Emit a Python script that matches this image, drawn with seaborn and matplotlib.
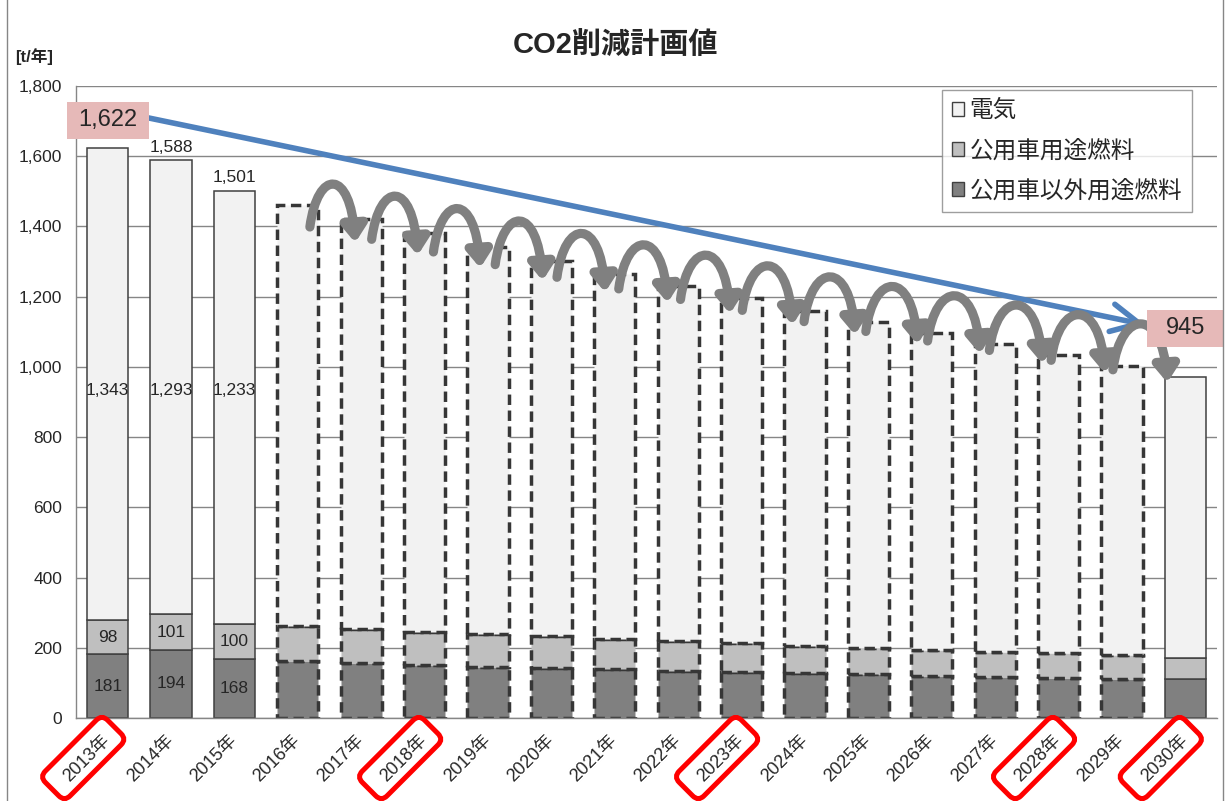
import numpy as np
import pandas as pd
import matplotlib
matplotlib.use("Agg")
import matplotlib.pyplot as plt
import seaborn as sns
from matplotlib.patches import Rectangle, FancyArrowPatch, FancyBboxPatch, Patch
from matplotlib.path import Path
from matplotlib.transforms import Affine2D, IdentityTransform
from matplotlib.ticker import FuncFormatter

# ---------------- data ----------------
years = ["2013年", "2014年", "2015年", "2016年", "2017年", "2018年", "2019年",
         "2020年", "2021年", "2022年", "2023年", "2024年", "2025年", "2026年",
         "2027年", "2028年", "2029年", "2030年"]
other_fuel = [181, 194, 168, 162, 157, 151, 145, 142, 139, 134, 130, 128, 125, 120, 117, 114, 111, 111]
vehicle_fuel = [98, 101, 100, 100, 96, 94, 94, 91, 86, 84, 83, 77, 75, 74, 72, 71, 68, 60]
electricity = [1343, 1293, 1233, 1199, 1169, 1137, 1103, 1069, 1040, 1013, 983, 955, 928, 903, 877, 849, 824, 801]
series_names = ["電気", "公用車用途燃料", "公用車以外用途燃料"]
start_label = "1,622"
target_label = "945"
highlight_years = ["2013年", "2018年", "2023年", "2028年", "2030年"]
plan_years = years[3:17]

C_ELEC, C_VEH, C_OTHER = "#F2F2F2", "#BFBFBF", "#808080"
EDGE = "#404040"
GRID = "#868686"

sns.set_style("white")
plt.rcParams["font.family"] = ["Liberation Sans", "Noto Sans CJK JP"]

df = pd.DataFrame({"year": years, "other": other_fuel, "vehicle": vehicle_fuel, "elec": electricity})
df["base2"] = df["other"]
df["base3"] = df["other"] + df["vehicle"]
df["total"] = df["base3"] + df["elec"]
totals = df["total"].tolist()

W, H = 1226, 801
fig = plt.figure(figsize=(W / 100, H / 100), dpi=100)
ax = fig.add_axes([76 / W, 1 - 718 / H, (1217 - 76) / W, (718 - 86) / H])

common = dict(x="year", width=0.65, errorbar=None, ax=ax, saturation=1, linewidth=1.1, edgecolor=EDGE)
sns.barplot(data=df, y="other", color=C_OTHER, **common)
sns.barplot(data=df, y="vehicle", color=C_VEH, bottom=df["base2"].values, **common)
sns.barplot(data=df, y="elec", color=C_ELEC, bottom=df["base3"].values, **common)

for cont in ax.containers:
    for i, p in enumerate(cont):
        if years[i] in plan_years:
            p.set_linestyle((0, (3.0, 1.6)))
            p.set_linewidth(2.5)
            p.set_edgecolor("#363636")
        p.set_zorder(2)

ax.set_xlim(-0.5, 17.5)
ax.set_ylim(0, 1800)
ax.set_yticks(np.arange(0, 1801, 200))
ax.yaxis.set_major_formatter(FuncFormatter(lambda v, p: f"{int(v):,}"))
ax.set_xticks(range(len(years)))
ax.set_xticklabels(years, rotation=45, ha="right", va="center", rotation_mode="anchor", fontsize=13)
ax.tick_params(axis="x", length=0, pad=14.4)
ax.tick_params(axis="y", length=0, pad=10, labelsize=12.5)
ax.set_xlabel("")
ax.set_ylabel("")
ax.yaxis.grid(True, color=GRID, lw=1)
ax.set_axisbelow(True)
for s in ["top", "right"]:
    ax.spines[s].set_visible(False)
for s in ["left", "bottom"]:
    ax.spines[s].set_color(GRID)
    ax.spines[s].set_linewidth(1)

# segment labels for actual years
elec_label_y = 932
for i in range(3):
    ax.text(i, other_fuel[i] / 2, f"{other_fuel[i]:,}", ha="center", va="center", fontsize=12.5, zorder=7)
    ax.text(i, df["base2"][i] + vehicle_fuel[i] / 2, f"{vehicle_fuel[i]:,}", ha="center", va="center", fontsize=12.5, zorder=7)
    ax.text(i, elec_label_y, f"{electricity[i]:,}", ha="center", va="center", fontsize=12.5, zorder=7)
for i in (1, 2):
    ax.annotate(f"{totals[i]:,}", (i, totals[i]), xytext=(0, 9.5), textcoords="offset points",
                ha="center", va="center", fontsize=12.5, zorder=7)

fig.canvas.draw()
sx = ax.transData.transform((1, 0))[0] - ax.transData.transform((0, 0))[0]
sy = ax.transData.transform((0, 1))[1] - ax.transData.transform((0, 0))[1]

# blue trend arrow
posA = (0 + 41 / sx, 1709)
posB = (17 - 40 / sx, 1120)
ax.add_patch(FancyArrowPatch(posA, posB, arrowstyle="->,head_length=20,head_width=10", mutation_scale=1,
                             color="#4F81BD", lw=4.0, shrinkA=0, shrinkB=0, zorder=4, clip_on=False))

# gray curved arrows between plan bars
idx = list(range(3, 17))
n = len(idx)
for k, i in enumerate(idx):
    t = k / (n - 1)
    foot_dx = 12 - 21 * t
    foot_dy = -22 + 18 * t
    tip_dx = -6 - 12 * t
    tip_dy = -24 + 18 * t
    peak = 20 + 21 * t
    T0, T1 = totals[i], totals[i + 1]
    x0, y0 = i + foot_dx / sx, T0 + foot_dy / sy
    x3, y3 = i + 1 + tip_dx / sx, T1 + tip_dy / sy
    ypk = T0 + peak / sy
    hh = (8 * ypk - y0 - y3) / 6
    x1, x2 = x0 + 8 / sx, x3 - 5 / sx
    path = Path([(x0, y0), (x1, hh), (x2, hh), (x3, y3)],
                [Path.MOVETO, Path.CURVE4, Path.CURVE4, Path.CURVE4])
    ax.add_patch(FancyArrowPatch(path=path, arrowstyle="-|>,head_length=9.5,head_width=7", mutation_scale=1,
                                 color="#808080", lw=6.6, zorder=5, clip_on=False))

# pink value boxes
for (xc, yc, w, h, s) in [(0, 1702, 82, 37, start_label), (17, 1110, 77, 37, target_label)]:
    cx, cy = ax.transData.transform((xc, yc))
    ax.add_patch(Rectangle((cx - w / 2, cy - h / 2), w, h, transform=IdentityTransform(),
                           facecolor="#E6B9B8", edgecolor="none", zorder=6, clip_on=False))
    ax.text(xc, yc, s, ha="center", va="center", fontsize=17, zorder=7, clip_on=False)

# red rounded boxes around highlighted year labels
for y in highlight_years:
    i = years.index(y)
    cx, cy = ax.transData.transform((i, 0))
    cx -= 24.5
    cy -= 40
    fig.add_artist(FancyBboxPatch((cx - 44, cy - 17.5), 88, 35, boxstyle="round,pad=0,rounding_size=8",
                                  transform=Affine2D().rotate_deg_around(cx, cy, 45),
                                  fill=False, edgecolor="#FF0000", lw=3.6, zorder=10))

# legend
handles = [Patch(facecolor=c, edgecolor=EDGE, lw=1) for c in (C_ELEC, C_VEH, C_OTHER)]
leg = ax.legend(handles, series_names, loc="upper right", bbox_to_anchor=(1192 / W, 1 - 90 / H),
                bbox_transform=fig.transFigure, frameon=True, fancybox=False, edgecolor=GRID,
                fontsize=17, handlelength=0.5, handleheight=0.5, handletextpad=0.25,
                labelspacing=0.75, borderpad=0.42, borderaxespad=0)
leg.get_frame().set_linewidth(1.0)
leg.set_zorder(8)

# titles
fig.text(615 / W, 1 - 45 / H, "CO2削減計画値", ha="center", va="center", fontsize=21, fontweight="bold")
fig.text(15 / W, 1 - 57 / H, "[t/年]", ha="left", va="center", fontsize=12, fontweight="bold")

# outer frame
fig.add_artist(Rectangle((7 / W, -0.01), (1223 - 7) / W, 1.02, transform=fig.transFigure,
                         fill=False, edgecolor=GRID, lw=1))

fig.savefig("out.png", dpi=100)
